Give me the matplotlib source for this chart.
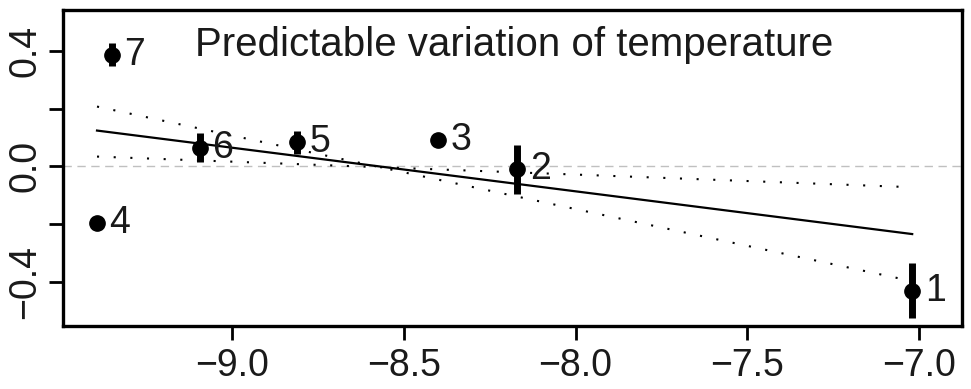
import matplotlib
matplotlib.use("Agg")
import matplotlib.pyplot as plt
import numpy as np

plt.rcParams['font.family'] = ['Liberation Sans', 'DejaVu Sans']

# data
labels = ["1", "2", "3", "4", "5", "6", "7"]
x_vals = [-7.02, -8.17, -8.40, -9.393, -8.81, -9.093, -9.349]
y_vals = [-0.43, -0.01, 0.093, -0.197, 0.083, 0.065, 0.386]
y_err = [0.095, 0.085, 0.0, 0.02, 0.04, 0.05, 0.04]

fit_x = [-9.393, -7.02]
fit_y = [0.124, -0.234]
ci_hi_y = [0.207, -0.397]
ci_lo_y = [0.034, -0.072]

xticks = [-9.0, -8.5, -8.0, -7.5, -7.0]
xticklabels = ["\u22129.0", "\u22128.5", "\u22128.0", "\u22127.5", "\u22127.0"]
yticks = [-0.4, -0.2, 0.0, 0.2, 0.4]
yticklabels = ["\u22120.4", "", "0.0", "", "0.4"]
title = "Predictable variation of temperature"

W, H = 971, 389
fig = plt.figure(figsize=(W / 100, H / 100), dpi=100)
ax = fig.add_axes([63 / W, (H - 326) / H, (962 - 63) / W, (326 - 10) / H])

ax.set_xlim(-9.492, -6.875)
ax.set_ylim(-0.552, 0.541)

ax.axhline(0, color="#c0c0c0", lw=1.0, ls=(0, (6, 4)), zorder=1)

ax.plot(fit_x, fit_y, color="black", lw=1.6, zorder=2)
ax.plot(fit_x, ci_hi_y, color="black", lw=1.5, ls=(0, (1, 7)), zorder=2)
ax.plot(fit_x, ci_lo_y, color="black", lw=1.5, ls=(0, (1, 7)), zorder=2)

ax.errorbar(x_vals, y_vals, yerr=y_err, fmt="o", color="black",
            markersize=11, elinewidth=5, capsize=0, zorder=3)

for xv, yv, lab in zip(x_vals, y_vals, labels):
    ax.annotate(lab, (xv, yv), xytext=(9, 0), textcoords="offset points",
                ha="left", va="center", fontsize=27, color="#1a1a1a")

ax.text((195 - 63) / 899, (326 - 45) / 316, title, transform=ax.transAxes,
        ha="left", va="center", fontsize=29, color="#1a1a1a")

ax.set_xticks(xticks)
ax.set_xticklabels(xticklabels)
ax.set_yticks(yticks)
ax.set_yticklabels(yticklabels, rotation=90, va="center")

ax.tick_params(axis="both", direction="out", length=10, width=2,
               labelsize=27, colors="black", labelcolor="#1a1a1a")
ax.tick_params(axis="x", pad=6)
ax.tick_params(axis="y", pad=4)

for sp in ax.spines.values():
    sp.set_linewidth(2.4)

fig.savefig("out.png", dpi=100)
